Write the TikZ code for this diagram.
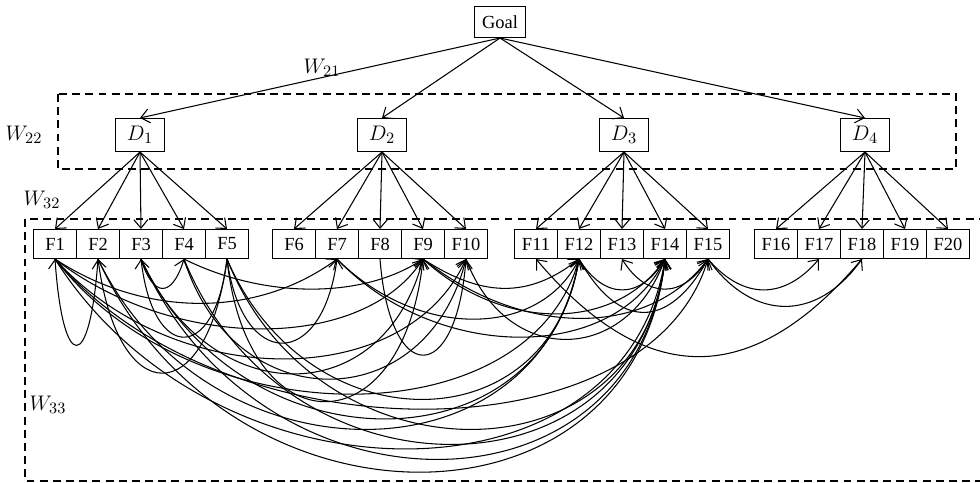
\documentclass[tikz,border=0pt]{standalone}
\usepackage{fontspec}
\setmainfont{Liberation Serif}
\usetikzlibrary{arrows.meta}
\tikzset{
  fbox/.style={draw, line width=0.6pt, inner sep=0pt, minimum width=0.86cm, minimum height=0.58cm, font=\fontsize{10.5}{12}\selectfont},
  dbox/.style={draw, line width=0.6pt, inner sep=0pt, minimum width=0.98cm, minimum height=0.66cm, font=\fontsize{12.5}{14}\selectfont},
  gbox/.style={draw, line width=0.6pt, inner sep=0pt, minimum width=1.02cm, minimum height=0.62cm, font=\fontsize{10.5}{12}\selectfont},
  group/.style={line width=0.6pt, dash pattern=on 4.5pt off 3pt},
  wlabel/.style={font=\fontsize{12.5}{14}\selectfont}
}

\begin{document}
\begin{tikzpicture}[x=0.02cm, y=-0.02cm, line width=0.6pt, >={Straight Barb[length=1.7mm,width=2.8mm]}]
		%%%%% START %%%%%
		\useasboundingbox (0,0) rectangle (980,483);
		
		% groups
		\draw[group] (58,94) rectangle (956,169);
		\draw[group] (25,219) rectangle (995,481);
		
		% nodes
		\node[gbox] (goal) at (500,22) {Goal};
		\node[dbox] (D1) at (140,135) {$D_1$};
		\node[dbox] (D2) at (382,135) {$D_2$};
		\node[dbox] (D3) at (624,135) {$D_3$};
		\node[dbox] (D4) at (865,135) {$D_4$};
		\foreach \i/\x in {1/55,2/98,3/141,4/184,5/227,6/294,7/337,8/380,9/423,10/466,
		                   11/536,12/579,13/622,14/665,15/708,16/776,17/819,18/862,19/905,20/948}
			\node[fbox] (F\i) at (\x,244) {F\i};
		
		% labels
		\node[wlabel] (w21) at (322,68) {$W_{21}$};
		\node[wlabel] (w22) at (24,135) {$W_{22}$};
		\node[wlabel] (w32) at (42,200) {$W_{32}$};
		\node[wlabel] (w33) at (48,405) {$W_{33}$};
		
		% goal -> criteria
		\foreach \d in {1,...,4}
			\draw[->] (goal.south) -- (D\d.north);
		
		% criteria -> factors
		\foreach \d/\a in {1/1,2/6,3/11,4/16}
			\foreach \k in {0,...,4} {
				\pgfmathtruncatemacro\j{\a+\k}
				\draw[->] (D\d.south) -- (F\j.north);
			}
		
		% links between factors (left/right/depth/out/in)
		\foreach \l/\r/\v/\hl/\hr in {1/2/115/8/8, 3/5/104/12/12, 2/5/152/20/20, 13/15/40/25/25, 11/18/130/110/110}
			\draw[<-] (F\l.south) .. controls +(\hl,\v) and +(-\hr,\v) .. (F\r.south);
		\foreach \l/\r/\v/\hl/\hr in {3/4/39/12/12, 1/7/59/90/80, 4/9/40/80/60, 5/7/112/15/15, 5/9/190/20/20,
		                             1/9/93/120/60, 1/10/133/120/60, 4/10/160/50/40, 8/10/128/10/10, 3/9/153/70/40,
		                             9/12/39/60/50, 1/12/180/140/50, 2/12/227/110/40, 3/12/213/100/35, 5/12/187/80/30,
		                             1/14/253/160/40, 2/14/284/130/30, 3/14/267/120/30, 4/14/247/100/30, 5/14/227/90/25,
		                             7/14/104/100/50, 9/14/73/80/50, 10/14/107/40/40, 9/15/79/100/60, 12/14/41/25/25,
		                             12/15/71/40/40, 1/15/200/170/60, 7/12/80/80/40, 15/17/41/35/35, 15/18/63/45/45}
			\draw[->] (F\l.south) .. controls +(\hl,\v) and +(-\hr,\v) .. (F\r.south);
		%%%%% END %%%%%
\end{tikzpicture}
\end{document}
